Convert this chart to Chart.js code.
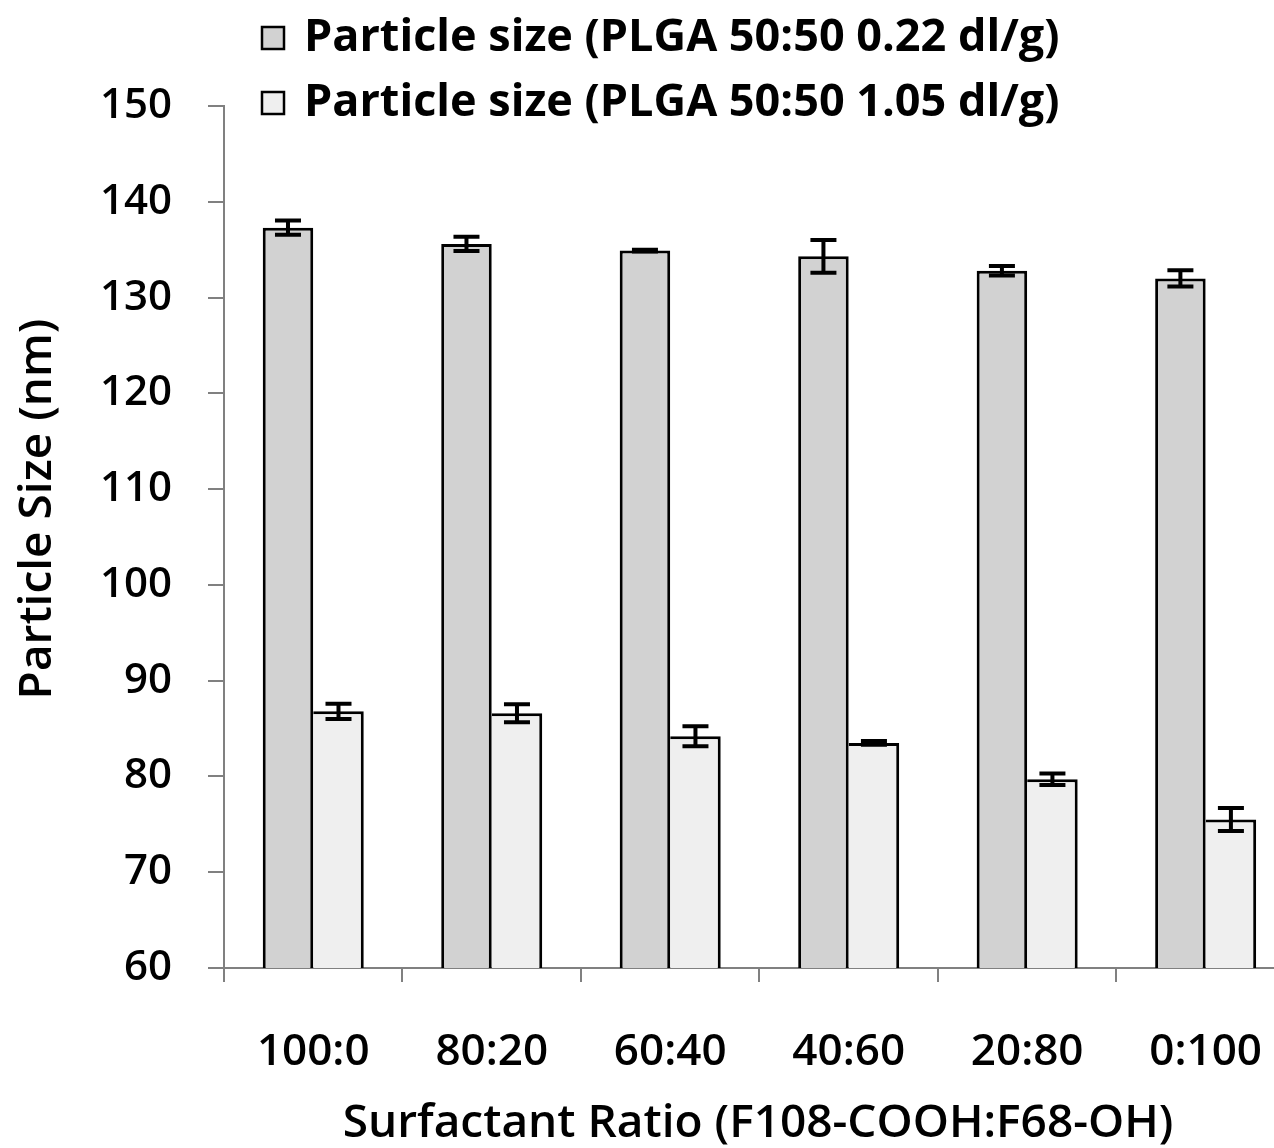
<!DOCTYPE html>
<html>
<head>
<meta charset="utf-8">
<title>Particle size vs surfactant ratio</title>
<script src="https://cdn.jsdelivr.net/npm/chart.js@4.4.1/dist/chart.umd.min.js"></script>
<style>
  body { margin: 0; background: #fff; overflow: hidden; }
  #chart { display: block; }
</style>
</head>
<body>
<canvas id="chart" width="1306" height="1148"></canvas>
<script>
// surfactant ratios (F108-COOH : F68-OH)
var ratios = ['100:0', '80:20', '60:40', '40:60', '20:80', '0:100'];

var seriesNames = ['Particle size (PLGA 50:50 0.22 dl/g)', 'Particle size (PLGA 50:50 1.05 dl/g)'];

// mean particle size (nm) and error (+/- nm)
var sizeLowIV = [137.3, 135.6, 134.9, 134.3, 132.8, 132.0];
var errLowIV = [0.75, 0.75, 0.1, 1.7, 0.5, 0.85];
var sizeHighIV = [86.8, 86.6, 84.2, 83.5, 79.7, 75.5];
var errHighIV = [0.8, 0.95, 1.05, 0.2, 0.6, 1.2];

var yMin = 60, yMax = 150, yStep = 10;

var xTitle = 'Surfactant Ratio (F108-COOH:F68-OH)';
var yTitle = 'Particle Size (nm)';

var FONT = '"Open Sans", "DejaVu Sans", sans-serif';
var axisGray = '#808080';

// vertical error bars with caps on top of each bar
const errorBars = {
  id: 'errorBars',
  afterDatasetsDraw(chart) {
    const ctx = chart.ctx, y = chart.scales.y;
    chart.data.datasets.forEach(function (ds, i) {
      const meta = chart.getDatasetMeta(i);
      meta.data.forEach(function (bar, j) {
        const hi = y.getPixelForValue(ds.data[j] + ds.errors[j]);
        const lo = y.getPixelForValue(ds.data[j] - ds.errors[j]);
        ctx.save();
        ctx.strokeStyle = '#000';
        ctx.lineWidth = 4;
        ctx.beginPath();
        ctx.moveTo(bar.x, hi); ctx.lineTo(bar.x, lo);
        ctx.moveTo(bar.x - 13, hi); ctx.lineTo(bar.x + 13, hi);
        ctx.moveTo(bar.x - 13, lo); ctx.lineTo(bar.x + 13, lo);
        ctx.stroke();
        ctx.restore();
      });
    });
  }
};

// legend in the top area plus the two axis titles
const labelsPlugin = {
  id: 'labelsPlugin',
  afterDraw(chart) {
    const ctx = chart.ctx;
    ctx.save();
    ctx.font = '700 45px ' + FONT;
    ctx.fillStyle = '#000';
    ctx.textBaseline = 'middle';
    ctx.textAlign = 'left';
    chart.data.datasets.forEach(function (ds, i) {
      const cy = 38 + i * 65;
      ctx.fillStyle = ds.backgroundColor;
      ctx.fillRect(262, cy - 11, 22, 22);
      ctx.strokeStyle = '#000';
      ctx.lineWidth = 2.5;
      ctx.strokeRect(262, cy - 11, 22, 22);
      ctx.fillStyle = '#000';
      ctx.fillText(ds.label, 304, cy);
    });

    ctx.textAlign = 'center';
    ctx.font = '600 46px ' + FONT;
    ctx.fillText(xTitle, 758, 1124);

    ctx.translate(38, 509);
    ctx.rotate(-Math.PI / 2);
    ctx.fillText(yTitle, 0, 0);
    ctx.restore();
  }
};

var ctx = document.getElementById('chart').getContext('2d');
var chart = new Chart(ctx, {
  type: 'bar',
  data: {
    labels: ratios,
    datasets: [
      {
        label: seriesNames[0],
        data: sizeLowIV,
        errors: errLowIV,
        backgroundColor: '#d2d2d2',
        borderColor: '#000',
        borderWidth: { top: 3, left: 3, right: 3, bottom: 0 },
        borderSkipped: false
      },
      {
        label: seriesNames[1],
        data: sizeHighIV,
        errors: errHighIV,
        backgroundColor: '#efefef',
        borderColor: '#000',
        borderWidth: { top: 3, left: 0, right: 3, bottom: 0 },
        borderSkipped: false
      }
    ]
  },
  options: {
    responsive: false,
    animation: false,
    categoryPercentage: 0.566,
    barPercentage: 1.0,
    layout: { padding: { top: 106, right: 0, left: 0, bottom: 0 } },
    plugins: {
      legend: { display: false },
      tooltip: { enabled: false }
    },
    scales: {
      x: {
        grid: {
          offset: true,
          drawOnChartArea: false,
          drawTicks: true,
          tickLength: 14,
          color: axisGray,
          lineWidth: 2
        },
        border: { color: axisGray, width: 2 },
        ticks: {
          color: '#000',
          padding: 44,
          maxRotation: 0,
          font: { family: FONT, size: 44, weight: '600' }
        },
        afterFit: function (s) { s.height = 1148 - 968; }
      },
      y: {
        min: yMin,
        max: yMax,
        grid: {
          drawOnChartArea: false,
          drawTicks: true,
          tickLength: 16,
          color: axisGray,
          lineWidth: 2
        },
        border: { color: axisGray, width: 2 },
        ticks: {
          stepSize: yStep,
          color: '#000',
          padding: 36,
          font: { family: FONT, size: 42, weight: '600' }
        },
        afterFit: function (s) { s.width = 224; }
      }
    }
  },
  plugins: [errorBars, labelsPlugin]
});
</script>
</body>
</html>
